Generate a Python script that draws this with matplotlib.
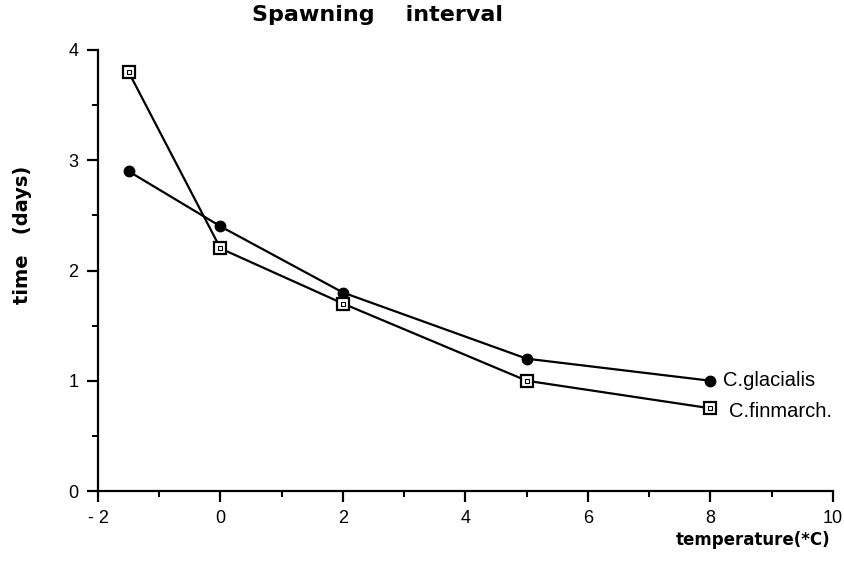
import matplotlib.pyplot as plt
from matplotlib.ticker import MultipleLocator

plt.rcParams['font.family'] = ['Liberation Sans', 'DejaVu Sans']

# data
temperature = [-1.5, 0, 2, 5, 8]
glacialis = [2.9, 2.4, 1.8, 1.2, 1.0]
finmarch = [3.8, 2.2, 1.7, 1.0, 0.75]
xticks = [-2, 0, 2, 4, 6, 8, 10]
xticklabels = ["- 2", "0", "2", "4", "6", "8", "10"]

W, H = 845, 563
fig = plt.figure(figsize=(W / 100, H / 100), dpi=100)
ax = fig.add_axes([98 / W, 1 - 491 / H, (833 - 98) / W, (491 - 50) / H])

# C. glacialis: filled dots
ax.plot(temperature, glacialis, color="black", lw=1.6, marker="o",
        ms=7.5, mfc="black", mec="black", zorder=3)

# C. finmarchicus: open square with a dot inside
ax.plot(temperature, finmarch, color="black", lw=1.6, marker="s",
        ms=8, mfc="white", mec="black", mew=1.6, zorder=3)
ax.plot(temperature, finmarch, ls="none", marker="s", ms=2.2,
        mfc="white", mec="black", mew=0.8, zorder=4)

ax.text(8.2, 1.0, "C.glacialis", fontsize=14.5, va="center", ha="left")
ax.text(8.3, 0.72, "C.finmarch.", fontsize=14.5, va="center", ha="left")

ax.set_xlim(-2, 10)
ax.set_ylim(0, 4)
ax.xaxis.set_minor_locator(MultipleLocator(1))
ax.yaxis.set_major_locator(MultipleLocator(1))
ax.yaxis.set_minor_locator(MultipleLocator(0.5))
ax.set_xticks(xticks)
ax.set_xticklabels(xticklabels)

ax.spines["top"].set_visible(False)
ax.spines["right"].set_visible(False)
ax.spines["left"].set_linewidth(1.6)
ax.spines["bottom"].set_linewidth(1.6)
ax.tick_params(which="major", direction="out", length=8, width=1.6,
               labelsize=13, pad=6)
ax.tick_params(which="minor", direction="out", length=4, width=1.4)

bold = ['DejaVu Sans']
fig.text(378 / W, 1 - 15 / H, "Spawning    interval", fontsize=16,
         fontweight="bold", family=bold, ha="center", va="center")
fig.text(23 / W, 1 - 235 / H, "time   (days)", fontsize=14,
         fontweight="bold", family=bold, rotation=90, ha="center", va="center")
fig.text(830 / W, 1 - 540 / H, "temperature(*C)", fontsize=12,
         fontweight="bold", family=bold, ha="right", va="center")

fig.savefig("out.png", dpi=100)
